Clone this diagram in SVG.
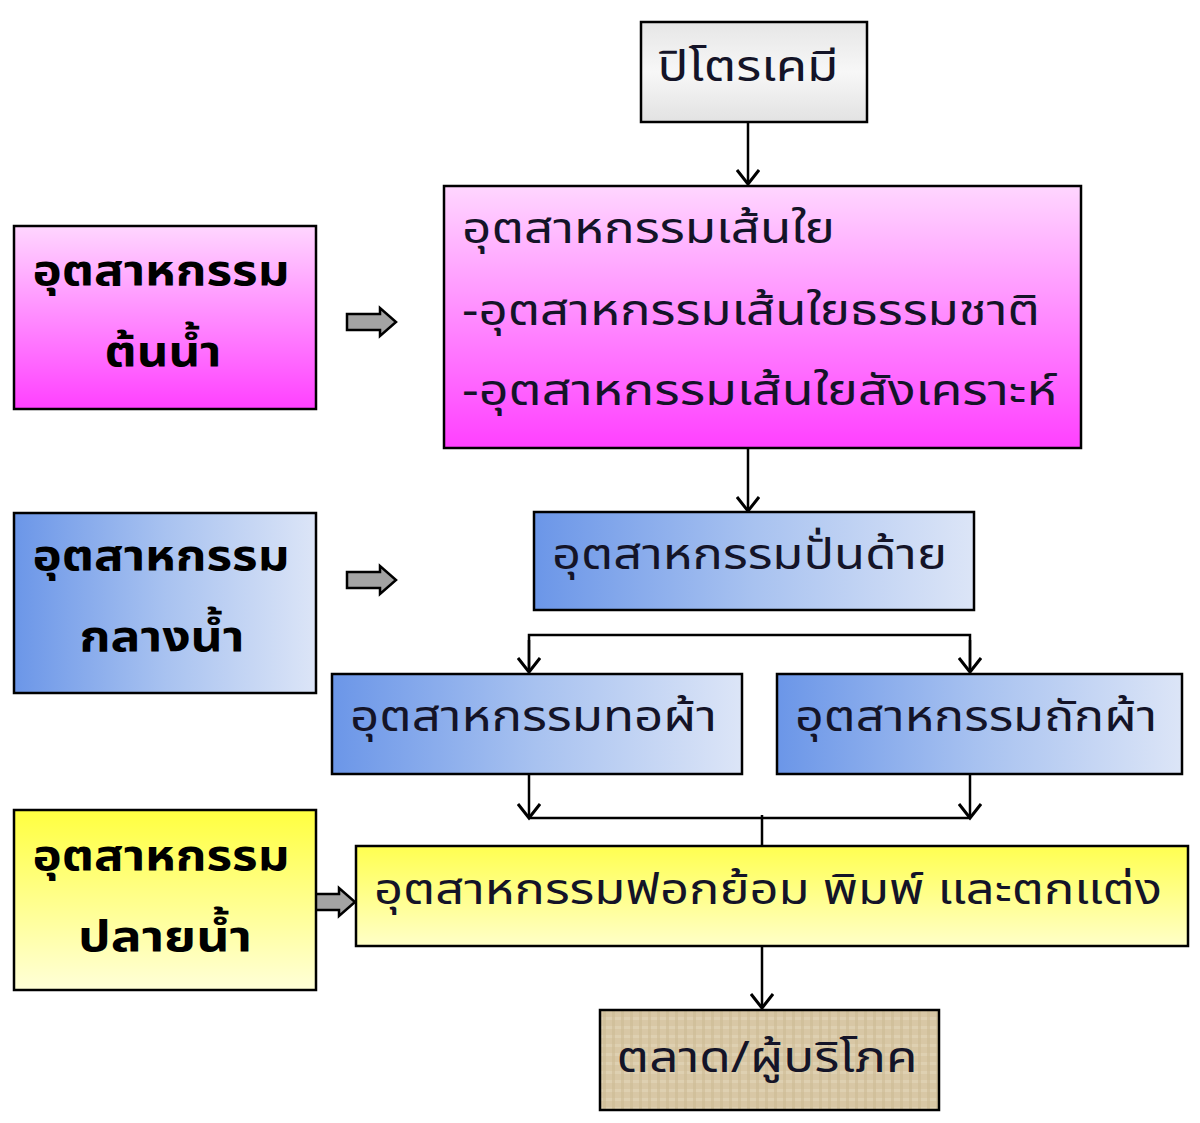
<svg xmlns="http://www.w3.org/2000/svg" width="1200" height="1123" viewBox="0 0 1200 1123">
<style>
.box{stroke:#000;stroke-width:2.5}
.t{font-family:"Noto Sans Thai","Tahoma","Loma","Garuda","DejaVu Sans","Liberation Sans",sans-serif;fill:#141428;font-size:43px}
.b{font-weight:bold;fill:#000}
.c{text-anchor:middle}
.ln{stroke:#000;stroke-width:2.5;fill:none}
.ar{marker-end:url(#v)}
.blk{fill:#a3a3a3;stroke:#000;stroke-width:2.5;stroke-linejoin:miter}
</style>
<defs>
<marker id="v" viewBox="0 0 24 24" refX="21" refY="12" markerWidth="24" markerHeight="24" markerUnits="userSpaceOnUse" orient="auto">
<path d="M7,1 L21,12 L7,23" fill="none" stroke="#000" stroke-width="3"/>
</marker>
<linearGradient id="gray" x1="0" y1="0" x2="0" y2="1"><stop offset="0" stop-color="#e6e6e6"/><stop offset="0.5" stop-color="#f7f7f7"/><stop offset="1" stop-color="#e2e2e2"/></linearGradient>
<linearGradient id="pink" x1="0" y1="0" x2="0" y2="1"><stop offset="0" stop-color="#ffd6ff"/><stop offset="1" stop-color="#ff40ff"/></linearGradient>
<linearGradient id="blue" x1="0" y1="0" x2="1" y2="0"><stop offset="0" stop-color="#6b96e8"/><stop offset="0.5" stop-color="#a8c2f0"/><stop offset="1" stop-color="#dce5f7"/></linearGradient>
<linearGradient id="yel" x1="0" y1="0" x2="0" y2="1"><stop offset="0" stop-color="#ffff40"/><stop offset="1" stop-color="#ffffd8"/></linearGradient>
<linearGradient id="yel2" x1="0" y1="0" x2="0" y2="1"><stop offset="0" stop-color="#ffff50"/><stop offset="1" stop-color="#ffffc8"/></linearGradient>
<pattern id="burlap" width="9" height="9" patternUnits="userSpaceOnUse">
<rect width="9" height="9" fill="#d8c7a5"/>
<rect x="0" y="0" width="9" height="3" fill="#e0d2b4" opacity="0.8"/>
<rect x="0" y="0" width="3" height="9" fill="#cdbb95" opacity="0.6"/>
</pattern>
</defs>

<g id="connectors">
<line class="ln ar" x1="748" y1="123" x2="748" y2="184"/>
<line class="ln ar" x1="748" y1="449" x2="748" y2="511"/>
<polyline class="ln" points="529,672 529,635 970,635 970,672"/>
<line class="ln ar" x1="529" y1="640" x2="529" y2="672"/>
<line class="ln ar" x1="970" y1="640" x2="970" y2="672"/>
<line class="ln ar" x1="529" y1="775" x2="529" y2="818"/>
<line class="ln ar" x1="970" y1="775" x2="970" y2="818"/>
<polyline class="ln" points="529,818 970,818"/>
<line class="ln" x1="762" y1="815" x2="762" y2="846"/>
<line class="ln ar" x1="762" y1="947" x2="762" y2="1008"/>
<polygon class="blk" points="347,314 380,314 380,308 396,322 380,336 380,330 347,330"/>
<polygon class="blk" points="347,572 380,572 380,566 396,580 380,594 380,588 347,588"/>
<polygon class="blk" points="309,894 339,894 339,888 355,902 339,916 339,910 309,910"/>
</g>

<g id="petrochem">
<rect class="box" x="641" y="22" width="226" height="100" fill="url(#gray)"/>
<text class="t c" x="748" y="81" textLength="181" lengthAdjust="spacingAndGlyphs">ปิโตรเคมี</text>
</g>

<g id="fiber">
<rect class="box" x="444" y="186" width="637" height="262" fill="url(#pink)"/>
<text class="t" x="462" y="243" textLength="373" lengthAdjust="spacingAndGlyphs">อุตสาหกรรมเส้นใย</text>
<text class="t" x="462" y="325" textLength="578" lengthAdjust="spacingAndGlyphs">-อุตสาหกรรมเส้นใยธรรมชาติ</text>
<text class="t" x="462" y="405" textLength="595" lengthAdjust="spacingAndGlyphs">-อุตสาหกรรมเส้นใยสังเคราะห์</text>
</g>

<g id="upstream">
<rect class="box" x="14" y="226" width="302" height="183" fill="url(#pink)"/>
<text class="t b c" x="161" y="285" textLength="257" lengthAdjust="spacingAndGlyphs">อุตสาหกรรม</text>
<text class="t b c" x="163" y="366" textLength="117" lengthAdjust="spacingAndGlyphs">ต้นน้ำ</text>
</g>

<g id="spinning">
<rect class="box" x="534" y="512" width="440" height="98" fill="url(#blue)"/>
<text class="t" x="552" y="569" textLength="395" lengthAdjust="spacingAndGlyphs">อุตสาหกรรมปั่นด้าย</text>
</g>

<g id="midstream">
<rect class="box" x="14" y="513" width="302" height="180" fill="url(#blue)"/>
<text class="t b c" x="161" y="570" textLength="257" lengthAdjust="spacingAndGlyphs">อุตสาหกรรม</text>
<text class="t b c" x="162" y="651" textLength="165" lengthAdjust="spacingAndGlyphs">กลางน้ำ</text>
</g>

<g id="weaving">
<rect class="box" x="332" y="674" width="410" height="100" fill="url(#blue)"/>
<text class="t" x="350" y="731" textLength="367" lengthAdjust="spacingAndGlyphs">อุตสาหกรรมทอผ้า</text>
</g>

<g id="knitting">
<rect class="box" x="777" y="674" width="405" height="100" fill="url(#blue)"/>
<text class="t" x="795" y="731" textLength="362" lengthAdjust="spacingAndGlyphs">อุตสาหกรรมถักผ้า</text>
</g>

<g id="dyeing">
<rect class="box" x="356" y="846" width="832" height="100" fill="url(#yel2)"/>
<text class="t" x="374" y="904" textLength="788" lengthAdjust="spacingAndGlyphs">อุตสาหกรรมฟอกย้อม พิมพ์ และตกแต่ง</text>
</g>

<g id="downstream">
<rect class="box" x="14" y="810" width="302" height="180" fill="url(#yel)"/>
<text class="t b c" x="161" y="870" textLength="257" lengthAdjust="spacingAndGlyphs">อุตสาหกรรม</text>
<text class="t b c" x="165" y="951" textLength="174" lengthAdjust="spacingAndGlyphs">ปลายน้ำ</text>
</g>

<g id="market">
<rect class="box" x="600" y="1010" width="339" height="100" fill="url(#burlap)"/>
<text class="t c" x="767" y="1072" textLength="301" lengthAdjust="spacingAndGlyphs">ตลาด/ผู้บริโภค</text>
</g>
</svg>
